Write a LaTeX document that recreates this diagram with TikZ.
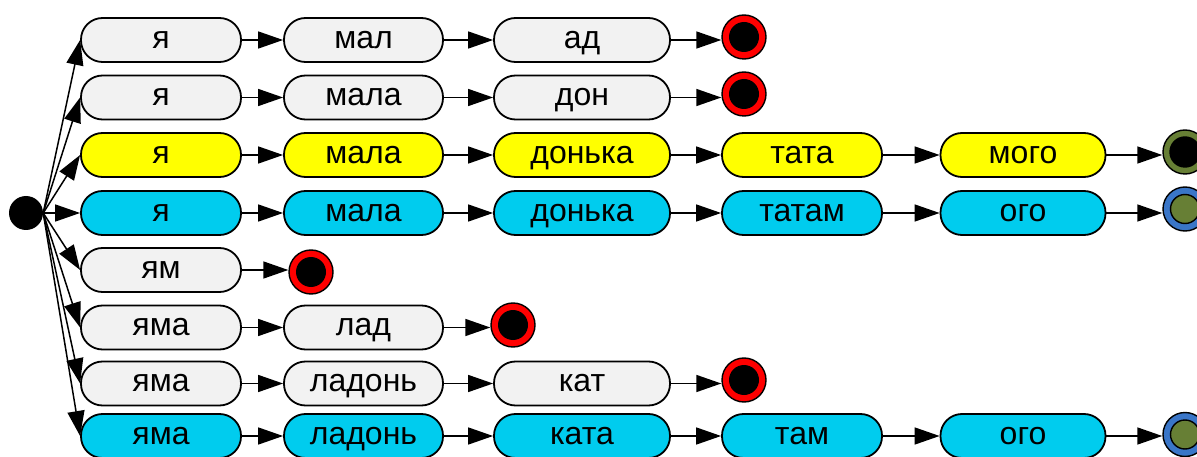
\documentclass[tikz,border=0pt]{standalone}
\usepackage{fontspec}
\setmainfont{Liberation Sans}
\usetikzlibrary{arrows.meta}
\definecolor{boxgray}{HTML}{F2F2F2}
\definecolor{boxyellow}{HTML}{FFFF00}
\definecolor{boxcyan}{HTML}{00CCEE}
\definecolor{ringolive}{HTML}{677F35}
\definecolor{ringblue}{HTML}{3A76C8}
\begin{document}
\begin{tikzpicture}[x=1pt,y=-1pt,
  word/.style={rectangle, draw=black, line width=1.8pt, rounded corners=21.5pt,
    minimum height=44pt, inner sep=0pt, text height=16.6pt, text depth=0pt,
    font=\fontsize{32}{38}\selectfont},
  gw/.style={word, fill=boxgray},
  yw/.style={word, fill=boxyellow},
  cw/.style={word, fill=boxcyan},
  ca/.style={minimum width=160pt},
  cb/.style={minimum width=159pt},
  cc/.style={minimum width=176pt},
  cd/.style={minimum width=160pt},
  ce/.style={minimum width=165pt},
  endbase/.style={circle, minimum size=44pt, inner sep=0pt, draw=black, line width=1.4pt},
  redend/.style={endbase, fill=red,
    path picture={\fill[black] (path picture bounding box.center) circle (15pt);}},
  oliveend/.style={endbase, fill=ringolive,
    path picture={\filldraw[fill=black, draw=black] (path picture bounding box.center) circle (15pt);}},
  blueend/.style={endbase, fill=ringblue,
    path picture={\filldraw[fill=ringolive, draw=black, line width=1.4pt] (path picture bounding box.center) circle (14.5pt);}},
  startdot/.style={circle, fill=black, minimum size=34pt, inner sep=0pt},
  arr/.style={line width=1.5pt, -{Triangle[length=25pt, width=17pt]}}
]
\useasboundingbox (0,0) rectangle (1197,457);
\clip (0,0) rectangle (1197,457);

% start point
\node[startdot] (s) at (26,213) {};

% row 1
\node[gw,ca] (a1) at (161,40) {я};
\node[gw,cb] (a2) at (363.5,40) {мал};
\node[gw,cc] (a3) at (582,40) {ад};
\node[redend] (ae) at (744,37) {};
% row 2
\node[gw,ca] (b1) at (161,97.5) {я};
\node[gw,cb] (b2) at (363.5,97.5) {мала};
\node[gw,cc] (b3) at (582,97.5) {дон};
\node[redend] (be) at (744,94) {};
% row 3
\node[yw,ca] (c1) at (161,155) {я};
\node[yw,cb] (c2) at (363.5,155) {мала};
\node[yw,cc] (c3) at (582,155) {донька};
\node[yw,cd] (c4) at (802,155) {тата};
\node[yw,ce] (c5) at (1023,155) {мого};
\node[oliveend] (ce) at (1185,152) {};
% row 4
\node[cw,ca] (d1) at (161,213) {я};
\node[cw,cb] (d2) at (363.5,213) {мала};
\node[cw,cc] (d3) at (582,213) {донька};
\node[cw,cd] (d4) at (802,213) {татам};
\node[cw,ce] (d5) at (1023,213) {ого};
\node[blueend] (de) at (1185,209) {};
% row 5
\node[gw,ca] (e1) at (161,270) {ям};
\node[redend] (ee) at (311,272) {};
% row 6
\node[gw,ca] (f1) at (161,327.5) {яма};
\node[gw,cb] (f2) at (363.5,327.5) {лад};
\node[redend] (fe) at (513,325) {};
% row 7
\node[gw,ca] (g1) at (161,383.5) {яма};
\node[gw,cb] (g2) at (363.5,383.5) {ладонь};
\node[gw,cc] (g3) at (582,383.5) {кат};
\node[redend] (ge) at (744,380) {};
% row 8
\node[cw,ca] (h1) at (161,436) {яма};
\node[cw,cb] (h2) at (363.5,436) {ладонь};
\node[cw,cc] (h3) at (582,436) {ката};
\node[cw,cd] (h4) at (802,436) {там};
\node[cw,ce] (h5) at (1023,436) {ого};
\node[blueend] (he) at (1185,434.5) {};

% fan of arrows from the start point
\foreach \r in {a,b,c,d,e,f,g,h}
  \draw[arr] (s.east) -- (\r1.west);

% arrows along each row
\draw[arr] (a1) -- (a2); \draw[arr] (a2) -- (a3);
\draw[arr] (a3.east) -- (a3.east -| ae.west);
\draw[arr] (b1) -- (b2); \draw[arr] (b2) -- (b3);
\draw[arr] (b3.east) -- (b3.east -| be.west);
\draw[arr] (c1) -- (c2); \draw[arr] (c2) -- (c3); \draw[arr] (c3) -- (c4); \draw[arr] (c4) -- (c5);
\draw[arr] (c5.east) -- (c5.east -| ce.west);
\draw[arr] (d1) -- (d2); \draw[arr] (d2) -- (d3); \draw[arr] (d3) -- (d4); \draw[arr] (d4) -- (d5);
\draw[arr] (d5.east) -- (d5.east -| de.west);
\draw[arr] (e1.east) -- (e1.east -| ee.west);
\draw[arr] (f1) -- (f2);
\draw[arr] (f2.east) -- (f2.east -| fe.west);
\draw[arr] (g1) -- (g2); \draw[arr] (g2) -- (g3);
\draw[arr] (g3.east) -- (g3.east -| ge.west);
\draw[arr] (h1) -- (h2); \draw[arr] (h2) -- (h3); \draw[arr] (h3) -- (h4); \draw[arr] (h4) -- (h5);
\draw[arr] (h5.east) -- (h5.east -| he.west);
\end{tikzpicture}
\end{document}
